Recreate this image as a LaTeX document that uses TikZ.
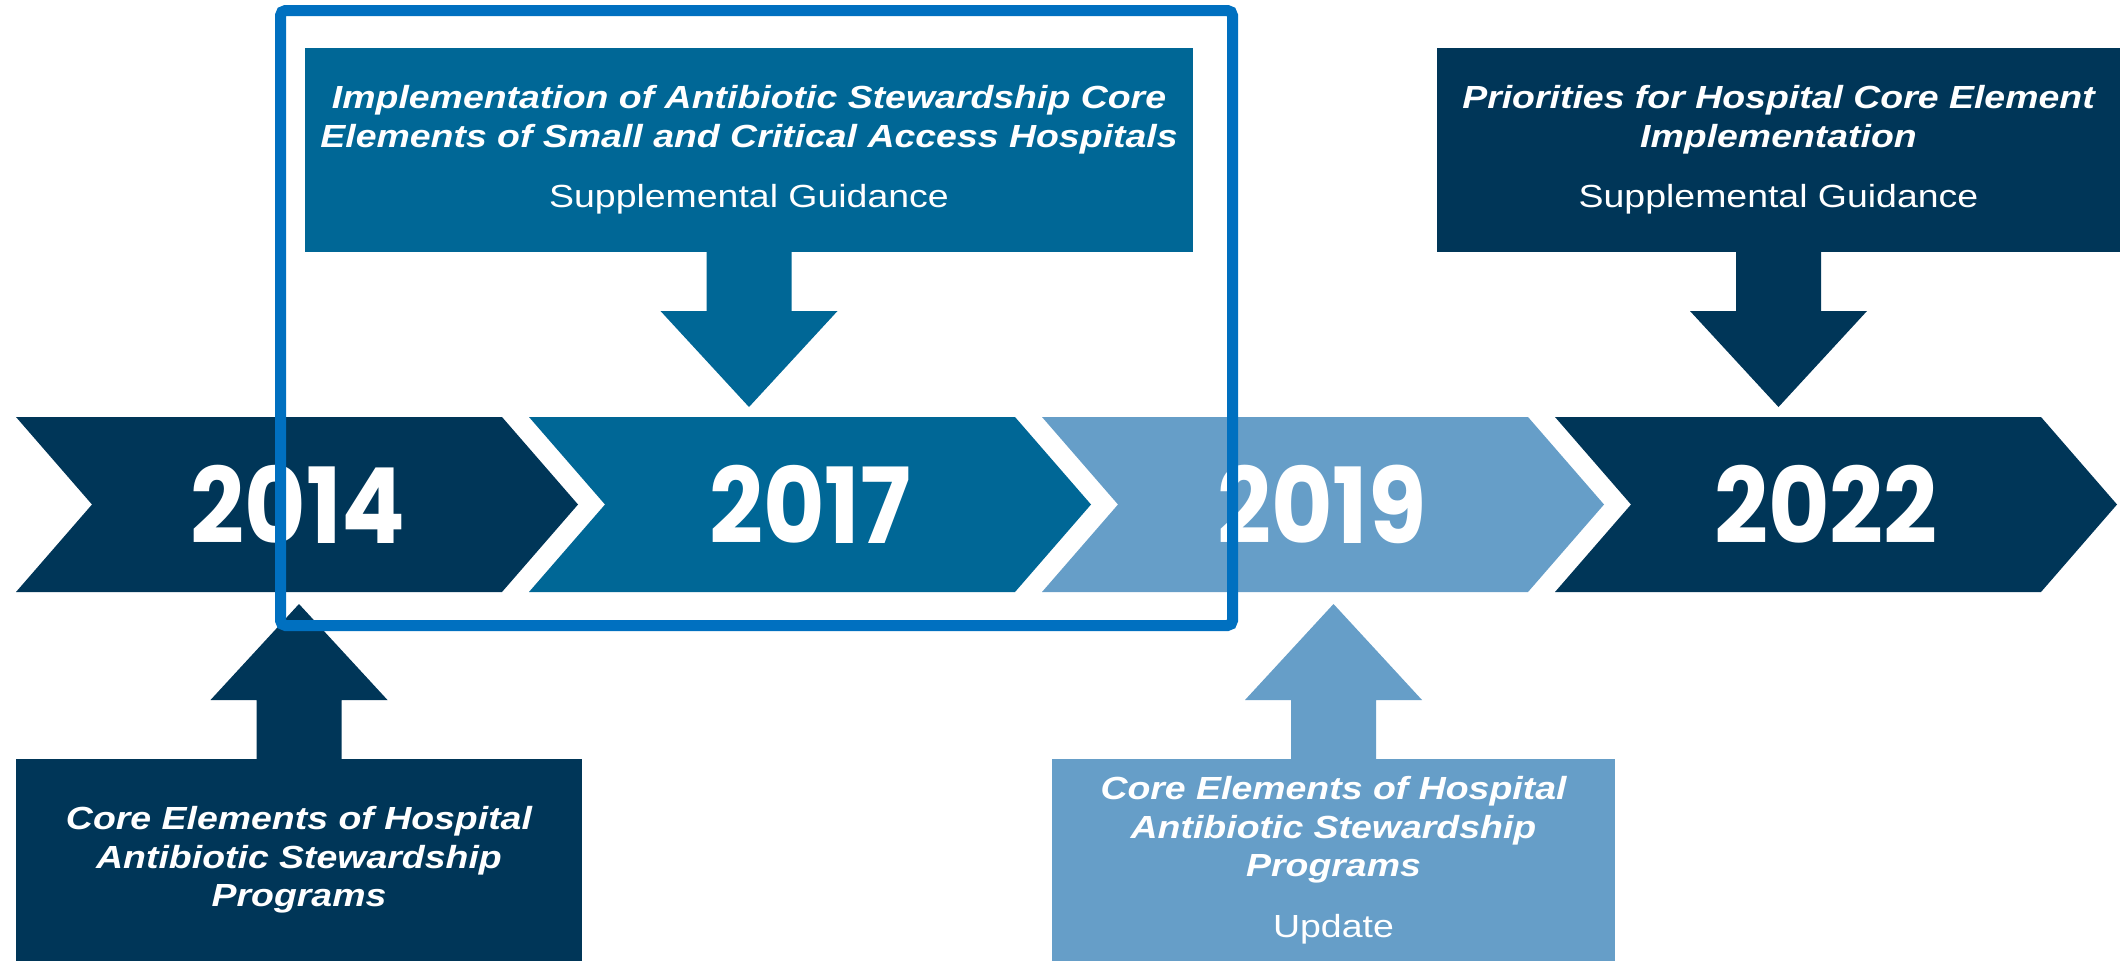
\documentclass[tikz,border=0pt]{standalone}
\usepackage{fontspec}
\setmainfont{Liberation Sans}
\newfontfamily\boxfont[FakeStretch=1.17]{Liberation Sans}
\newfontfamily\yearfont[FakeStretch=0.9]{Poppins}
\usetikzlibrary{calc}
\definecolor{navy}{HTML}{003658}
\definecolor{midblue}{HTML}{006796}
\definecolor{paleblue}{HTML}{669EC8}
\definecolor{frameblue}{HTML}{0070C0}
\newcommand\bi[1]{{\bfseries\itshape #1}}
\newcommand\chev[2]{\fill[#2] (#1,417) -- ++(486,0) -- ++(76,87.5) -- ++(-76,87.5) -- ++(-486,0) -- ++(76,-87.5) -- cycle;}
\newcommand\blockdown[2]{\fill[#2] ($(#1.south)+(-42.5,-1)$) -- ($(#1.south)+(-42.5,59)$) -- ($(#1.south)+(-88.5,59)$) -- ($(#1.south)+(0,155)$) -- ($(#1.south)+(88.5,59)$) -- ($(#1.south)+(42.5,59)$) -- ($(#1.south)+(42.5,-1)$) -- cycle;}
\newcommand\blockup[2]{\fill[#2] ($(#1.north)+(-42.5,1)$) -- ($(#1.north)+(-42.5,-59)$) -- ($(#1.north)+(-88.5,-59)$) -- ($(#1.north)+(0,-155)$) -- ($(#1.north)+(88.5,-59)$) -- ($(#1.north)+(42.5,-59)$) -- ($(#1.north)+(42.5,1)$) -- cycle;}
\tikzset{
  infobox/.style={rectangle, inner sep=0pt, outer sep=0pt, text=white, align=center,
    font=\boxfont\fontsize{32}{38.5}\selectfont},
  yearlabel/.style={inner sep=0pt, outer sep=0pt, anchor=base, text=white,
    font=\yearfont\bfseries\fontsize{105}{105}\selectfont}
}
\begin{document}
\begin{tikzpicture}[x=1pt,y=-1pt]
\useasboundingbox (0,0) rectangle (2123,961);
\fill[white] (0,0) rectangle (2123,961);
% chevrons
\chev{16}{navy}
\chev{529}{midblue}
\chev{1042}{paleblue}
\chev{1555}{navy}
\node[yearlabel] (y2014) at (298,543) {2014};
\node[yearlabel] (y2017) at (810,543) {2017};
\node[yearlabel] (y2019) at (1322,543) {2019};
\node[yearlabel] (y2022) at (1826,543) {2022};
% boxes
\node[infobox, fill=midblue, minimum width=888pt, minimum height=204pt] (t1) at (749,150)
  {\bi{Implementation of Antibiotic Stewardship Core}\\\bi{Elements of Small and Critical Access Hospitals}\\[22pt]Supplemental Guidance};
\node[infobox, fill=navy, minimum width=683pt, minimum height=204pt] (t2) at (1778.5,150)
  {\bi{Priorities for Hospital Core Element}\\\bi{Implementation}\\[22pt]Supplemental Guidance};
\node[infobox, fill=navy, minimum width=566pt, minimum height=202pt] (b1) at (299,860)
  {\bi{Core Elements of Hospital}\\\bi{Antibiotic Stewardship}\\\bi{Programs}};
\node[infobox, fill=paleblue, minimum width=563pt, minimum height=202pt] (b2) at (1333.5,860)
  {\bi{Core Elements of Hospital}\\\bi{Antibiotic Stewardship}\\\bi{Programs}\\[22pt]Update};
% block arrows
\blockdown{t1}{midblue}
\blockdown{t2}{navy}
\blockup{b1}{navy}
\blockup{b2}{paleblue}
% highlight frame
\draw[frameblue, line width=11pt, rounded corners=5pt] (280.5,10.5) rectangle (1232.5,625.5);
\end{tikzpicture}
\end{document}
